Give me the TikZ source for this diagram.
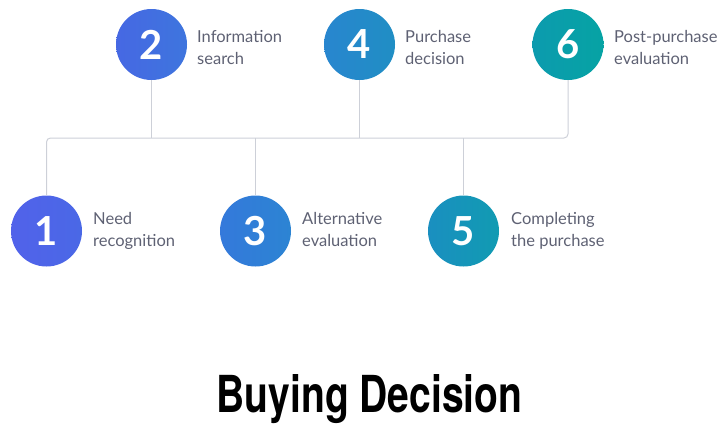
\documentclass[tikz,border=0pt]{standalone}
\usepackage{fontspec}
\usepackage{graphicx}
\setmainfont{Lato}
\newfontfamily\titlefont{TeX Gyre Heros}
\definecolor{linegray}{HTML}{CDD0D8}
\definecolor{labelgray}{HTML}{5E6173}
\definecolor{cOneL}{HTML}{5162EA}\definecolor{cOneR}{HTML}{4A68E6}
\definecolor{cTwoL}{HTML}{4668E3}\definecolor{cTwoR}{HTML}{3E75DE}
\definecolor{cThrL}{HTML}{3479DB}\definecolor{cThrR}{HTML}{2C84D3}
\definecolor{cFouL}{HTML}{2886CF}\definecolor{cFouR}{HTML}{208EC4}
\definecolor{cFivL}{HTML}{1A8FC0}\definecolor{cFivR}{HTML}{119BB2}
\definecolor{cSixL}{HTML}{0C9BAE}\definecolor{cSixR}{HTML}{06A3A4}
\tikzset{
  stepcircle/.style={circle, minimum size=71pt, inner sep=0pt, text=white,
    font=\fontsize{40}{40}\selectfont\bfseries},
  steplabel/.style={anchor=base west, inner sep=0pt, align=left, text=labelgray,
    font=\fontsize{16.5}{22.5}\selectfont},
  connector/.style={draw=linegray, line width=1pt},
}
\begin{document}
\begin{tikzpicture}[x=1pt,y=-1pt]
\useasboundingbox (0,0) rectangle (725,445);
% circles
\node[stepcircle, left color=cTwoL, right color=cTwoR] (c2) at (151.5,44.5) {2};
\node[stepcircle, left color=cFouL, right color=cFouR] (c4) at (359.5,44.5) {4};
\node[stepcircle, left color=cSixL, right color=cSixR] (c6) at (568,44.5) {6};
\node[stepcircle, left color=cOneL, right color=cOneR] (c1) at (46.5,231) {1};
\node[stepcircle, left color=cThrL, right color=cThrR] (c3) at (255.5,231) {3};
\node[stepcircle, left color=cFivL, right color=cFivR] (c5) at (463.5,231) {5};
% connectors
\coordinate (bus) at (0,138);
\draw[connector, rounded corners=4pt] (c1.north) -- (c1.north |- bus) -| (c6.south);
\draw[connector] (c2.south) -- (c2.south |- bus);
\draw[connector] (c4.south) -- (c4.south |- bus);
\draw[connector] (c3.north) -- (c3.north |- bus);
\draw[connector] (c5.north) -- (c5.north |- bus);
% labels (anchor = baseline of the second line)
\node[steplabel] (l2) at (197,64.5) {Information\\search};
\node[steplabel] (l4) at (405,64.5) {Purchase\\decision};
\node[steplabel] (l6) at (614,64.5) {Post-purchase\\evaluation};
\node[steplabel] (l1) at (93,246.5) {Need\\recognition};
\node[steplabel] (l3) at (302,246.5) {Alternative\\evaluation};
\node[steplabel] (l5) at (511,246.5) {Completing\\the purchase};
% title
\node[anchor=base, inner sep=0pt] (title) at (369.5,412)
  {\scalebox{0.765}[1]{\titlefont\fontsize{51}{51}\selectfont\bfseries Buying Decision}};
\end{tikzpicture}
\end{document}
